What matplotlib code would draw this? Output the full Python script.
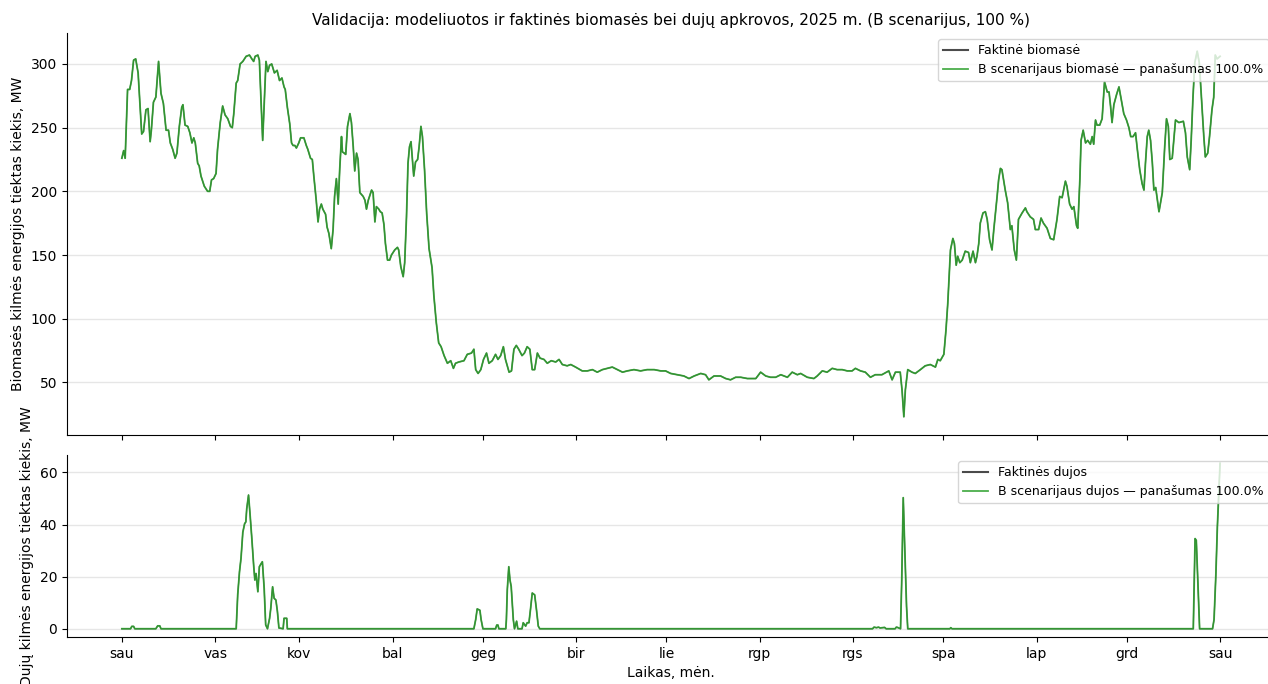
import numpy as np
import pandas as pd
import matplotlib
matplotlib.use('Agg')
import matplotlib.pyplot as plt
import matplotlib.dates as mdates

#%% Duomenys (nuskaityta nuo grafiko, diena nuo 2025-01-01)

# biomase, MW
bio_day = [0, 0.6, 1.1, 1.9, 2.6, 3.2, 3.9, 4.6, 5.4, 6.3, 6.6, 7.2, 8.0, 8.7, 9.4, 9.8, 10.5, 11.3, 11.9, 12.2,
           13.0, 13.8, 14.7, 15.5, 16.1, 16.9, 17.7, 18.3, 19.1, 19.9, 20.3, 21.0, 21.9, 22.6, 23.3, 23.9, 24.4,
           25.2, 25.7, 26.3, 27.4, 28.5, 29.2, 29.8, 30.5,
           31.3, 31.8, 32.7, 33.5, 34.3, 35.2, 36.1, 36.7, 37.2, 38.0, 38.5, 39.3, 40.2, 41.3, 42.4, 43.2, 43.8,
           44.3, 45.2, 45.7, 46.3, 46.8, 47.4, 47.9, 48.5, 49.1, 49.8, 50.7, 51.6, 52.4, 53.2, 53.9, 54.3, 55.0,
           55.8, 56.4, 56.9, 57.5, 58.0, 58.8,
           59.4, 60.5, 61.3, 61.8, 62.7, 63.3, 63.8, 64.6, 65.2, 65.7, 66.3, 66.8, 67.7, 68.2, 68.8, 69.6, 70.2,
           70.7, 71.3, 71.9, 72.4, 73.0, 73.3, 73.9, 74.4, 75.0, 75.8, 76.3, 76.9, 77.4, 78.0, 78.5, 79.1, 80.2,
           80.8, 81.3, 81.9, 83.0, 83.5, 84.1, 84.6, 85.4, 85.9, 86.5, 87.1, 87.6, 88.3, 89.0, 89.6,
           90.7, 91.6, 92.0, 92.7, 93.5, 94.0, 94.6, 95.1, 95.6, 96.1, 97.0, 97.6, 98.3, 98.8, 99.4, 99.9, 100.6,
           101.3, 102.1, 103.1, 103.7, 104.5, 105.3, 106.1, 107.1, 108.2, 109.3, 110.2, 110.9, 112.0, 113.7,
           114.8, 116.2, 117.0, 117.6, 118.4, 119.3,
           120.2, 121.2, 122.0, 123.1, 124.2, 125.0, 125.9, 126.8, 127.5, 128.7, 129.5, 130.3, 131.1, 131.9,
           133.0, 133.8, 134.7, 135.6, 136.4, 137.2, 138.1, 139.0, 140.3, 141.4, 142.7, 144.2, 145.3, 146.4,
           148.0, 149.2,
           150.8, 153.0, 154.7, 156.4, 158.0, 159.7, 161.4, 163.0, 164.7, 166.4, 168.0, 170.2, 172.4, 174.6,
           176.9, 179.1,
           180.7, 182.4, 184.6, 186.8, 188.5, 190.2, 192.4, 194.0, 195.1, 196.8, 199.0, 200.7, 202.3, 204.0,
           205.7, 207.9, 209.5, 210.7,
           212.3, 214.0, 215.6, 217.3, 219.0, 221.2, 222.8, 224.5, 225.6, 227.8, 230.0, 231.1, 232.8, 234.4,
           236.1, 237.7, 239.4, 241.1, 242.7,
           243.8, 245.5, 247.1, 248.8, 250.4, 252.6, 254.9, 256.0, 257.1, 258.7, 259.3, 259.9, 260.4, 261.2,
           262.6, 263.7, 265.4, 267.0, 268.7, 270.4, 271.2, 272.0,
           273.2, 273.9, 274.5, 275.0, 275.4, 276.2, 276.7, 277.3, 277.8, 278.5, 279.3, 280.3, 281.4, 282.0,
           282.9, 283.7, 284.2, 284.8, 285.3, 286.2, 287.0, 287.6, 288.4, 289.2, 289.8, 290.9, 291.4, 292.0,
           292.5, 293.6, 294.4, 295.3, 295.8, 296.6, 297.3, 298.0, 299.2, 300.3, 300.8, 301.9, 303.0, 303.6,
           304.7, 305.5, 306.3, 307.5, 308.6, 309.7, 310.8, 311.7, 312.5, 313.6, 314.1, 315.0, 315.8, 316.4,
           317.3, 317.7, 318.4, 318.8, 319.5, 320.3, 321.0, 321.9, 322.5, 323.0, 323.6, 324.1, 325.0, 325.8,
           326.6, 327.5, 328.1, 328.6, 329.1, 329.7, 330.6, 331.4, 332.1, 333.0, 333.9,
           334.7, 335.3, 336.1, 336.9, 337.5, 338.3, 339.1, 339.7, 340.2, 340.8, 341.3, 341.9, 342.5, 343.0,
           343.6, 344.7, 345.8, 346.6, 347.2, 347.8, 348.3, 349.1, 350.2, 351.3, 352.8, 353.5, 354.1, 354.9,
           355.4, 356.0, 356.6, 357.4, 358.1, 358.8, 359.6, 360.1, 360.9, 361.5, 362.3, 362.9, 363.4, 364.0, 365.0]
bio_mw = [226, 232, 226, 280, 280, 287, 303, 304, 293, 256, 245, 247, 264, 265, 239, 248, 270, 274, 293, 302,
          277, 269, 248, 248, 238, 233, 226, 230, 251, 266, 268, 252, 251, 246, 238, 242, 238,
          222, 220, 212, 204, 200, 200, 209, 210,
          214, 233, 254, 267, 260, 257, 251, 250, 261, 285, 287, 300, 302, 306, 307, 304, 302,
          306, 307, 303, 269, 240, 274, 302, 294, 299, 300, 293, 295, 287, 289, 282, 280, 266,
          253, 238, 236, 236, 234, 238,
          242, 242, 236, 233, 226, 225, 212, 193, 176, 186, 190, 186, 182, 172, 167, 155, 170,
          196, 210, 190, 217, 243, 231, 230, 229, 251, 261, 254, 235, 216, 230, 225, 199, 196,
          193, 186, 193, 201, 199, 176, 188, 186, 184, 183, 174, 159, 146, 146, 150,
          154, 156, 154, 141, 133, 144, 180, 222, 235, 239, 212, 223, 225, 235, 251, 243, 217,
          183, 155, 140, 118, 97, 81, 78, 71, 65, 67, 61, 65, 66, 67,
          72, 73, 76, 60, 57, 60,
          68, 73, 65, 67, 72, 68, 71, 78, 68, 58, 59, 76, 79, 76,
          71, 73, 78, 76, 60, 60, 73, 69, 68, 65, 67, 66, 68, 64,
          63, 64,
          62, 59, 59, 60, 58, 60, 61, 62, 60, 58, 59, 60, 59, 60,
          60, 59,
          59, 57, 56, 55, 53, 55, 57, 56, 52, 55, 55, 53, 52, 54,
          54, 53, 53, 53,
          58, 55, 54, 54, 56, 54, 58, 56, 57, 54, 53, 55, 59, 58,
          61, 60, 60, 59, 59,
          61, 59, 58, 54, 56, 56, 59, 52, 58, 58, 44, 23, 44, 60,
          58, 57, 60, 63, 64, 62, 68, 67,
          72, 91, 112, 136, 154, 163, 159, 142, 149, 144, 146, 153, 152, 144,
          153, 144, 149, 159, 175, 183, 184, 178, 162, 154, 170, 196, 209, 218,
          217, 201, 191, 170, 173, 154, 146, 178, 183, 187, 184, 180, 178, 170,
          170, 179, 175, 171, 163, 162, 178, 196, 195, 208, 204, 190, 186, 188,
          173, 171, 209, 240, 248, 238, 240, 237, 243, 237, 256, 252, 252, 257,
          286, 278, 278, 267, 254, 268, 276, 282, 273, 261, 256,
          250, 243, 243, 246, 233, 217, 206, 201, 222, 243, 248, 240, 222, 201,
          203, 184, 199, 235, 257, 251, 225, 226, 256, 254, 255, 246, 227, 217,
          240, 274, 301, 310, 301, 274, 243, 227, 230, 243, 264, 274, 307, 304, 306]

# dujos, MW
gas_day = [0, 2.9, 3.3, 3.9, 4.3, 11.3, 11.9, 12.6, 13.0,
           38.0, 38.5, 39.1, 39.6, 40.2, 40.8, 41.2, 41.5, 42.1, 42.6, 43.2, 43.8, 44.2, 44.6, 45.2, 45.7,
           46.3, 46.7, 47.3, 47.8, 48.4, 49.1, 49.5, 50.1, 50.6, 51.2, 51.7, 52.2, 53.6, 53.9, 54.8, 55.0,
           117.0, 117.6, 118.1, 119.0, 119.4, 120.0, 124.2, 124.6, 125.0, 125.3,
           127.6, 127.8, 128.1, 128.6, 129.0, 129.4, 130.1, 130.5, 131.2, 131.6, 133.0, 133.4, 134.2, 134.7,
           135.3, 135.8, 136.4, 137.2, 137.8, 138.4, 138.9,
           249.5, 250.0, 250.8, 251.5, 252.0, 253.5, 254.0, 257.0, 257.4, 257.8, 258.8,
           259.2, 259.7, 260.2, 260.8, 261.2, 275.2, 275.5, 275.9,
           356.1, 356.7, 357.1, 357.8, 358.2, 362.5, 363.0, 363.6, 364.1, 364.7, 365.0]
gas_mw = [0, 0, 0.9, 0.9, 0, 0, 1.1, 1.1, 0,
          0, 13, 21.9, 27, 37, 40.3, 41, 46, 51.3, 44, 34.6, 24.4, 18.7, 21.2, 14.2, 23.8,
          25, 25.7, 15.5, 1.5, 0, 4, 7.9, 16.1, 11.7, 11, 6.6, 0.3, 0, 4, 4, 0,
          0, 3.5, 7.6, 7.1, 3.5, 0, 0, 1.4, 1.4, 0,
          0, 3.5, 14.9, 23.8, 18.7, 16.2, 3.5, 0, 2.9, 0, 0, 2.3, 1.0, 2.3,
          2.3, 7.3, 13.7, 13, 7.3, 1, 0,
          0, 0.6, 0.4, 0.6, 0.3, 0.5, 0, 0, 0.6, 0.5, 0,
          18.6, 50.3, 31.2, 8.5, 0, 0, 0.4, 0,
          0, 34.6, 33.9, 12.4, 0, 0, 3.5, 20.6, 39, 55.4, 63.5]

month_labels = ['sau', 'vas', 'kov', 'bal', 'geg', 'bir', 'lie', 'rgp', 'rgs', 'spa', 'lap', 'grd']

# modeliuota == faktine (panasumas 100 %)
start = pd.Timestamp('2025-01-01')
bio_t = start + pd.to_timedelta(bio_day, unit='D')
gas_t = start + pd.to_timedelta(gas_day, unit='D')
bio_fact = np.array(bio_mw, dtype=float)
gas_fact = np.array(gas_mw, dtype=float)
bio_model = bio_fact.copy()
gas_model = gas_fact.copy()

#%% Grafikas
fig = plt.figure(figsize=(12.68, 6.84), dpi=100)
ax1 = fig.add_axes([0.0528, 0.364, 0.9527, 0.5878])
ax2 = fig.add_axes([0.0528, 0.0687, 0.9527, 0.2661], sharex=ax1)

ax1.plot(bio_t, bio_fact, color='black', alpha=0.7, linewidth=0.9, label='Faktinė biomasė')
ax1.plot(bio_t, bio_model, color='#2ca02c', alpha=0.85, linewidth=1.3,
         label='B scenarijaus biomasė — panašumas 100.0%')
ax2.plot(gas_t, gas_fact, color='black', alpha=0.7, linewidth=0.9, label='Faktinės dujos')
ax2.plot(gas_t, gas_model, color='#2ca02c', alpha=0.85, linewidth=1.3,
         label='B scenarijaus dujos — panašumas 100.0%')

for ax in [ax1, ax2]:
    ax.spines['top'].set_visible(False)
    ax.spines['right'].set_visible(False)
    ax.grid(axis='y', color='#e6e6e6', linewidth=1)
    ax.set_axisbelow(True)
    leg = ax.legend(loc='upper right', fontsize=9)
    leg.get_lines()[0].set_linewidth(1.5)

ax2.xaxis.set_major_locator(mdates.MonthLocator())
ax2.xaxis.set_major_formatter(plt.FuncFormatter(lambda x, pos: month_labels[mdates.num2date(x).month - 1]))
plt.setp(ax1.get_xticklabels(), visible=False)

ax1.set_title('Validacija: modeliuotos ir faktinės biomasės bei dujų apkrovos, 2025 m. (B scenarijus, 100 %)',
              fontsize=11)
ax1.set_ylabel('Biomasės kilmės energijos tiektas kiekis, MW')
ax2.set_ylabel('Dujų kilmės energijos tiektas kiekis, MW')
ax2.set_xlabel('Laikas, mėn.')

plt.savefig('out.png', dpi=100)
